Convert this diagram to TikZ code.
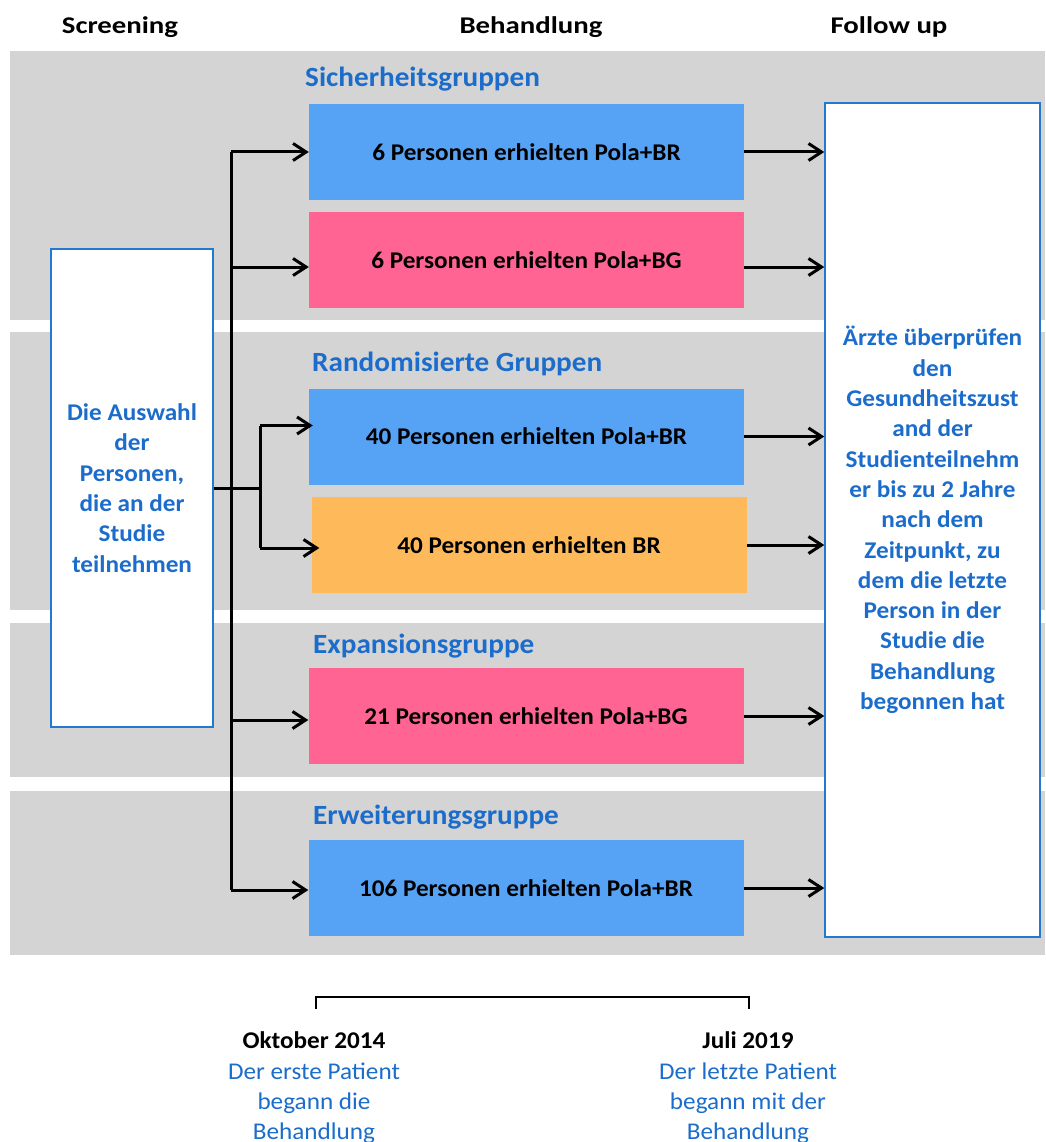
\documentclass[tikz,border=0pt]{standalone}
\usepackage{fontspec}
\setmainfont{Carlito}[FakeStretch=1.05]
\newfontfamily\kopf{Carlito}[FakeStretch=1.2]
\usetikzlibrary{arrows.meta}
\usetikzlibrary{positioning}

\definecolor{bande}{HTML}{D4D4D4}
\definecolor{bleuboite}{HTML}{56A3F6}
\definecolor{rose}{HTML}{FF6493}
\definecolor{orangeboite}{HTML}{FEBA5A}
\definecolor{bleutexte}{HTML}{1C6DCB}
\definecolor{bord}{HTML}{2478D0}
\newcommand\taille{\fontsize{24}{30.3}\selectfont}
\newcommand\grand{\fontsize{27.8}{33}\selectfont}

\tikzset{
  groupe/.style={minimum width=435pt,minimum height=96pt,inner sep=0pt,font=\taille\bfseries},
  cadre/.style={draw=bord,line width=1.5pt,fill=white,inner sep=0pt,align=center,
                font=\taille\bfseries,text=bleutexte},
  titre/.style={anchor=base west,inner sep=0pt,font=\grand\bfseries,text=bleutexte},
  entete/.style={anchor=base,inner sep=0pt,font=\kopf\taille\bfseries},
  datum/.style={anchor=base,inner sep=0pt,font=\taille\bfseries},
  beschr/.style={inner sep=0pt,align=center,font=\taille,text=bleutexte},
  trait/.style={line width=3pt},
  fleche/.style={line width=3pt,-{Straight Barb[length=13pt,width=17pt]}}
}

\begin{document}
\begin{tikzpicture}[x=1pt,y=-1pt]
\useasboundingbox (0,0) rectangle (1045,1142);

% Les bandes grises
\fill[bande] (10,51) rectangle (1045,320);
\fill[bande] (10,332) rectangle (1045,610);
\fill[bande] (10,623) rectangle (1045,777);
\fill[bande] (10,791) rectangle (1045,955);

% Entetes
\node[entete] (scr) at (120,34) {Screening};
\node[entete] (beh) at (531,34) {Behandlung};
\node[entete] (fol) at (889,34) {Follow up};

% Titres des groupes
\node[titre] (t1) at (305,87) {Sicherheitsgruppen};
\node[titre] (t2) at (312,371) {Randomisierte Gruppen};
\node[titre] (t3) at (313,653) {Expansionsgruppe};
\node[titre] (t4) at (313,824) {Erweiterungsgruppe};

% Les groupes
\node[groupe,fill=bleuboite] (g1) at (526.5,152) {6 Personen erhielten Pola+BR};
\node[groupe,fill=rose] (g2) at (526.5,260) {6 Personen erhielten Pola+BG};
\node[groupe,fill=bleuboite] (g3) at (526.5,436.5) {40 Personen erhielten Pola+BR};
\node[groupe,fill=orangeboite] (g4) at (529,545) {40 Personen erhielten BR};
\node[groupe,fill=rose] (g5) at (526,716) {21 Personen erhielten Pola+BG};
\node[groupe,fill=bleuboite] (g6) at (526,888) {106 Personen erhielten Pola+BR};

% Screening et follow up
\node[cadre,minimum width=162pt,minimum height=478pt] (sel) at (132,488)
  {Die Auswahl\\der\\Personen,\\die an der\\Studie\\teilnehmen};
\node[cadre,minimum width=215pt,minimum height=834pt] (fu) at (932.5,520)
  {Ärzte überprüfen\\den\\Gesundheitszust\\and der\\Studienteilnehm\\er bis zu 2 Jahre\\nach dem\\Zeitpunkt, zu\\dem die letzte\\Person in der\\Studie die\\Behandlung\\begonnen hat};

% Verbindungen
\coordinate (tronc) at (231,0);
\coordinate (rand) at (260,0);
\draw[trait] (g1.west -| tronc) -- ([yshift=-2pt]g6.west -| tronc);
\draw[trait] (sel.east) -- (sel.east -| rand);
\draw[trait] ([yshift=11pt]g3.west -| rand) -- ([yshift=-3pt]g4.west -| rand);
\draw[fleche] (g1.west -| tronc) -- (g1.west);
\draw[fleche] ([yshift=-7pt]g2.west -| tronc) -- ([yshift=-7pt]g2.west);
\draw[fleche,shorten >=-4pt] ([yshift=11pt]g3.west -| rand) -- ([yshift=11pt]g3.west);
\draw[fleche,shorten >=-8pt] ([yshift=-3pt]g4.west -| rand) -- ([yshift=-3pt]g4.west);
\draw[fleche] ([yshift=-4pt]g5.west -| tronc) -- ([yshift=-4pt]g5.west);
\draw[fleche] ([yshift=-2pt]g6.west -| tronc) -- ([yshift=-2pt]g6.west);
\draw[fleche] (g1.east) -- (g1.east -| fu.west);
\draw[fleche] ([yshift=-7pt]g2.east) -- ([yshift=-7pt]g2.east -| fu.west);
\foreach \g in {g3,g4,g5,g6}
  \draw[fleche] (\g.east) -- (\g.east -| fu.west);

% Zeitraum
\node[datum] (okt) at (314,1048) {Oktober 2014};
\node[datum] (jul) at (748,1048) {Juli 2019};
\node[beschr,below=14pt of okt] (b1) {Der erste Patient\\begann die\\Behandlung};
\node[beschr,below=14pt of jul] (b2) {Der letzte Patient\\begann mit der\\Behandlung};
\draw[line width=2.5pt] (316,1009) -- (316,997) -- (749,997) -- (749,1009);
\end{tikzpicture}
\end{document}
